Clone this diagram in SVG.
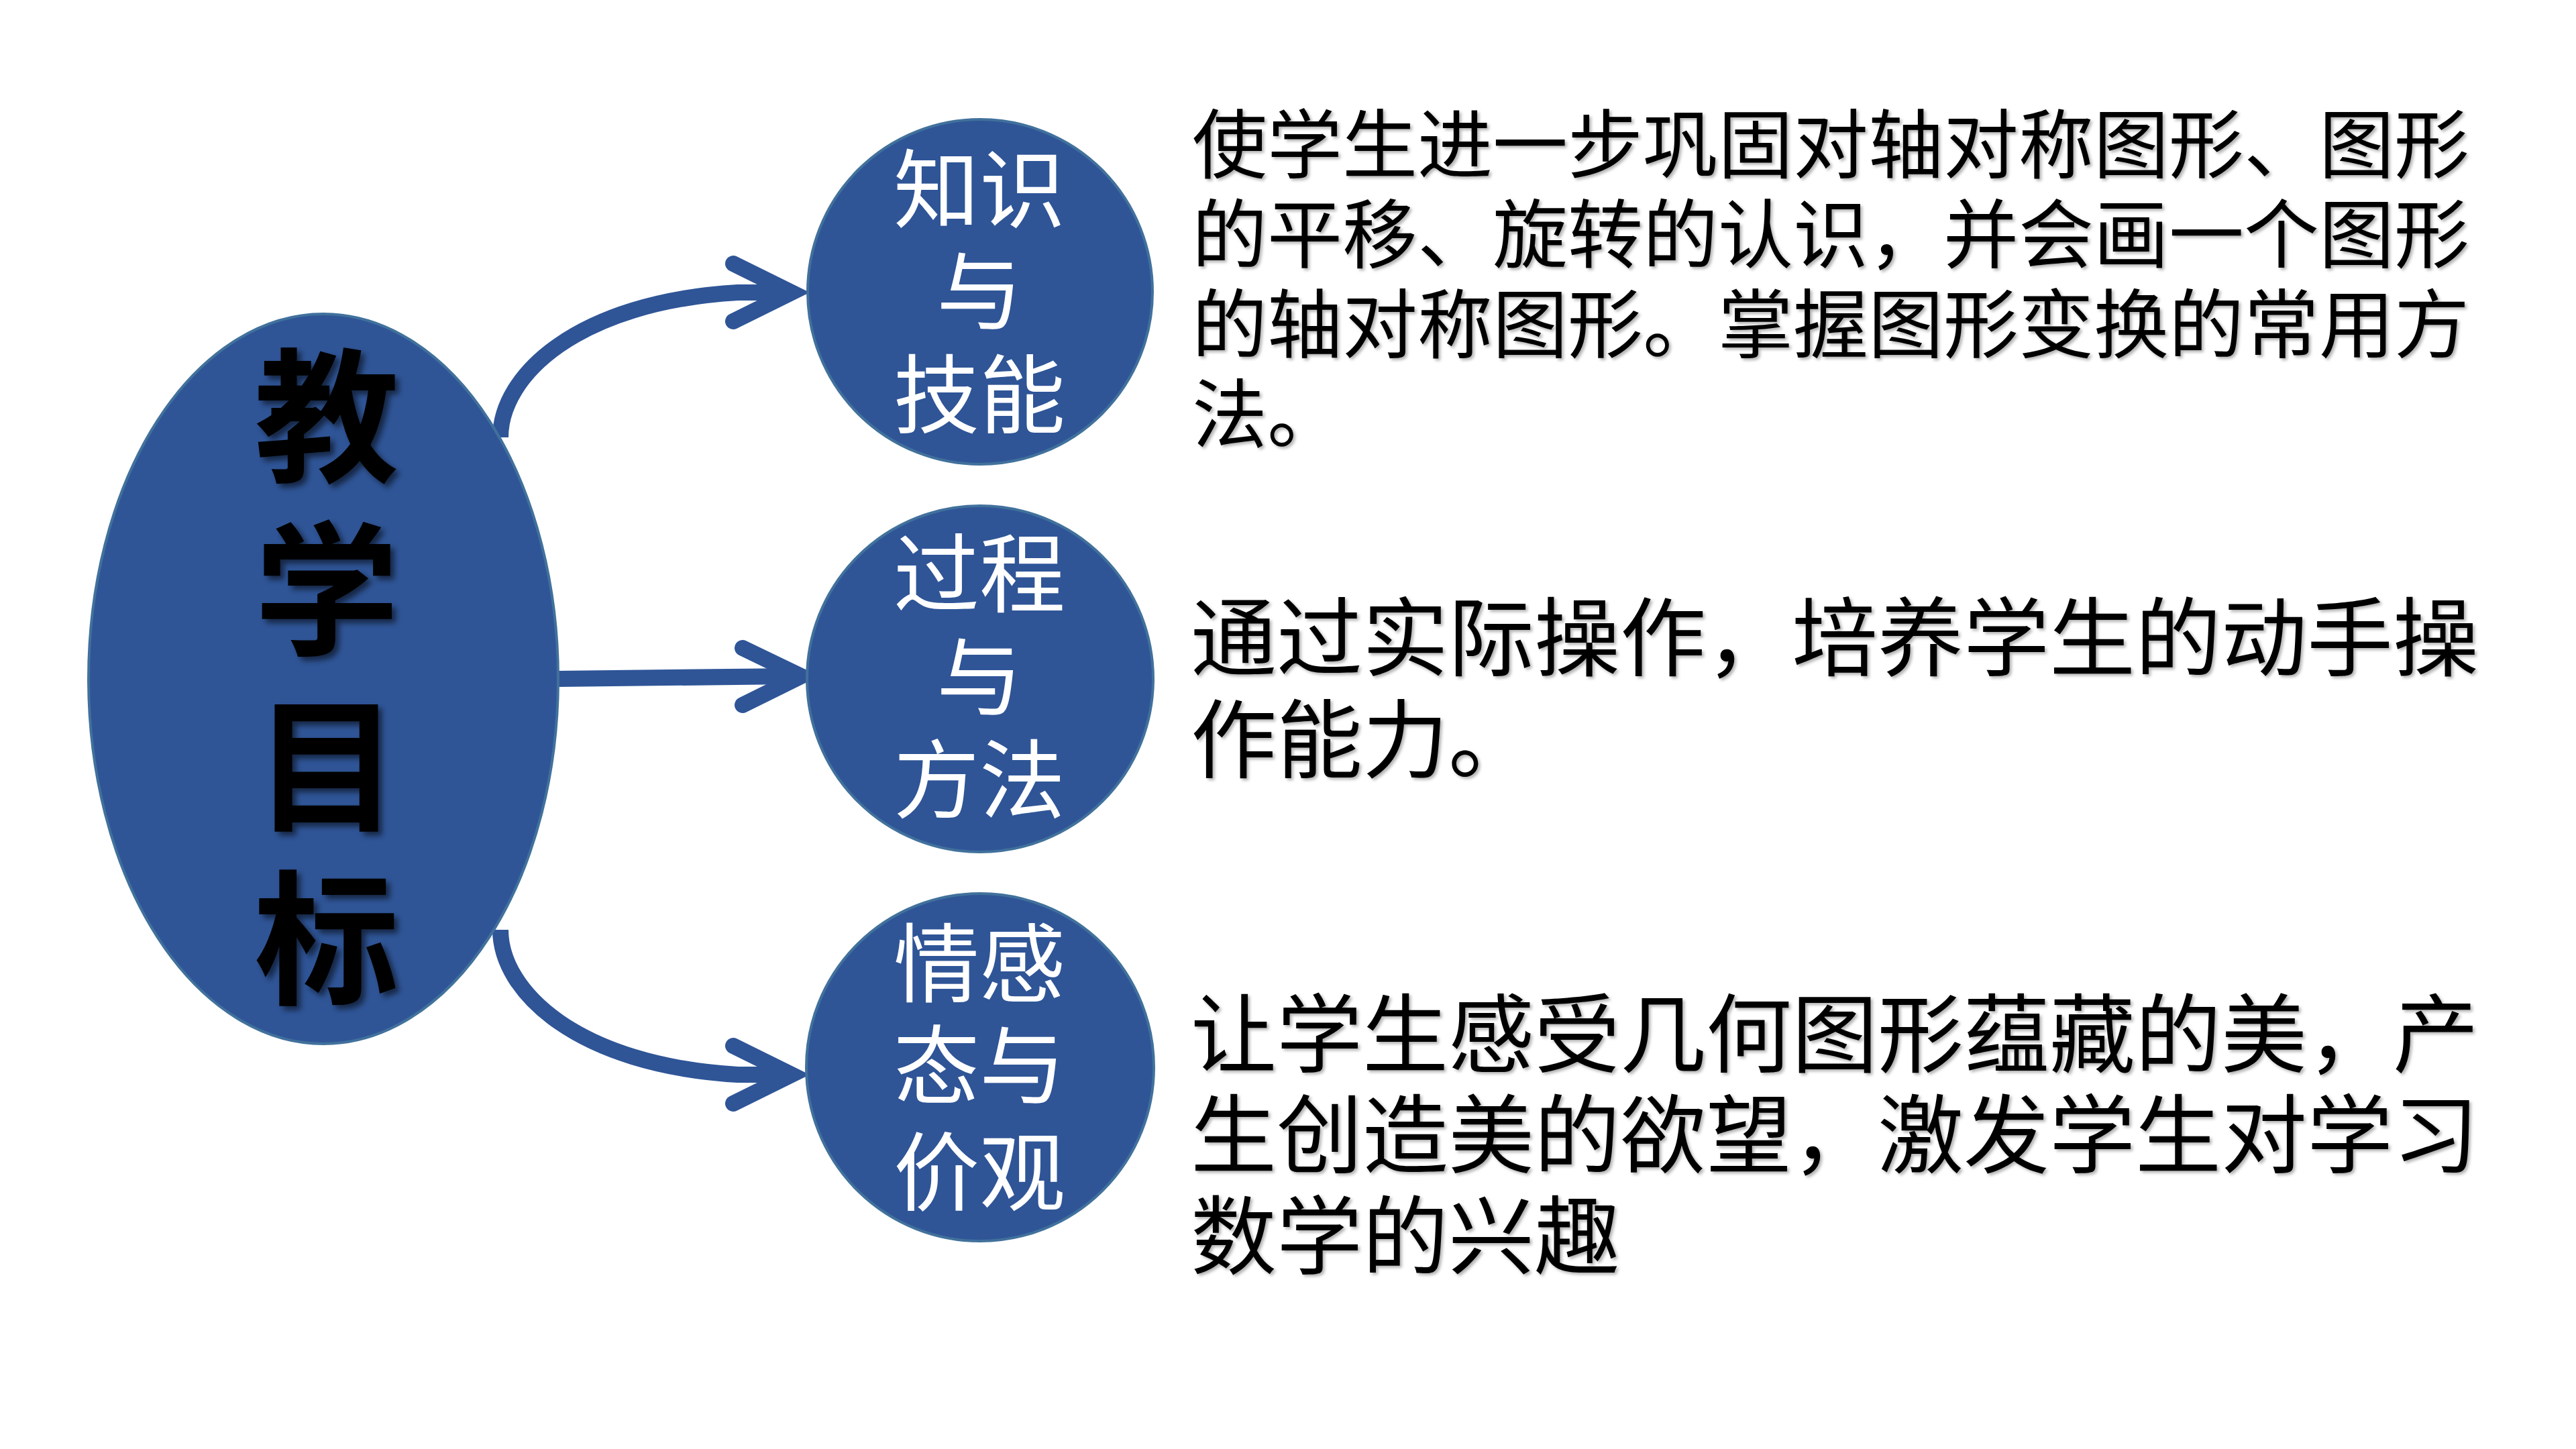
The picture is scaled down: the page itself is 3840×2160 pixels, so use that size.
<svg xmlns="http://www.w3.org/2000/svg" width="3840" height="2160" viewBox="0 0 3840 2160">
  <style>
    .node { fill: #2F5597; stroke: #41719C; stroke-width: 4; }
    .conn { fill: none; stroke: #2F5597; stroke-width: 24; }
    .head { fill: none; stroke: #2F5597; stroke-width: 24; stroke-linecap: round; stroke-linejoin: miter; stroke-miterlimit: 10; }
    .title { font-family: "Noto Sans CJK SC", sans-serif; font-weight: 700; font-size: 216px; fill: #000; text-anchor: middle; }
    .ctext { font-family: "Noto Sans CJK SC", sans-serif; font-size: 128px; fill: #fff; text-anchor: middle; }
    .desc1 { font-family: "Noto Sans CJK SC", sans-serif; font-size: 112px; fill: #000; }
    .desc2 { font-family: "Noto Sans CJK SC", sans-serif; font-size: 128px; fill: #000; }
  </style>
  <defs>
    <filter id="shadow" x="-20%" y="-20%" width="140%" height="140%">
      <feDropShadow dx="6" dy="6" stdDeviation="4" flood-color="#000" flood-opacity="0.55"/>
    </filter>
    <filter id="lightshadow" x="-5%" y="-20%" width="110%" height="140%">
      <feDropShadow dx="3" dy="3" stdDeviation="2" flood-color="#000" flood-opacity="0.3"/>
    </filter>
  </defs>
  <rect width="3840" height="2160" fill="#fff"/>

  <g id="connectors">
    <path class="conn" d="M746 652 C746 560 860 450 1100 436 L1165 436"/>
    <polyline class="head" points="1093,393 1180,436 1093,479"/>
    <path class="conn" d="M830 1012 L1180 1008"/>
    <polyline class="head" points="1107,966 1194,1008 1107,1051"/>
    <path class="conn" d="M746 1386 C746 1478 860 1588 1100 1602 L1165 1602"/>
    <polyline class="head" points="1093,1559 1180,1602 1093,1645"/>
  </g>

  <g id="node-main">
    <ellipse class="node" cx="482" cy="1012" rx="350" ry="544"/>
    <g class="title" filter="url(#shadow)">
      <text x="487" y="702">教</text>
      <text x="487" y="960">学</text>
      <text x="487" y="1222">目</text>
      <text x="487" y="1480">标</text>
    </g>
  </g>

  <g id="node-knowledge">
    <circle class="node" cx="1461" cy="435" r="257"/>
    <text class="ctext" x="1460" y="330">知识</text>
    <text class="ctext" x="1460" y="482">与</text>
    <text class="ctext" x="1460" y="636">技能</text>
  </g>

  <g id="node-process">
    <circle class="node" cx="1461" cy="1012" r="258"/>
    <text class="ctext" x="1460" y="903">过程</text>
    <text class="ctext" x="1460" y="1057">与</text>
    <text class="ctext" x="1460" y="1210">方法</text>
  </g>

  <g id="node-emotion">
    <circle class="node" cx="1461" cy="1591" r="259"/>
    <text class="ctext" x="1460" y="1484">情感</text>
    <text class="ctext" x="1460" y="1636">态与</text>
    <text class="ctext" x="1460" y="1795">价观</text>
  </g>

  <g id="desc-knowledge" class="desc1" filter="url(#lightshadow)">
    <text x="1777" y="257">使学生进一步巩固对轴对称图形、图形</text>
    <text x="1777" y="391">的平移、旋转的认识，并会画一个图形</text>
    <text x="1777" y="525">的轴对称图形。掌握图形变换的常用方</text>
    <text x="1777" y="659">法。</text>
  </g>

  <g id="desc-process" class="desc2" filter="url(#lightshadow)">
    <text x="1775" y="998">通过实际操作，培养学生的动手操</text>
    <text x="1775" y="1150">作能力。</text>
  </g>

  <g id="desc-emotion" class="desc2" filter="url(#lightshadow)">
    <text x="1775" y="1589">让学生感受几何图形蕴藏的美，产</text>
    <text x="1775" y="1739">生创造美的欲望，激发学生对学习</text>
    <text x="1775" y="1890">数学的兴趣</text>
  </g>
</svg>
